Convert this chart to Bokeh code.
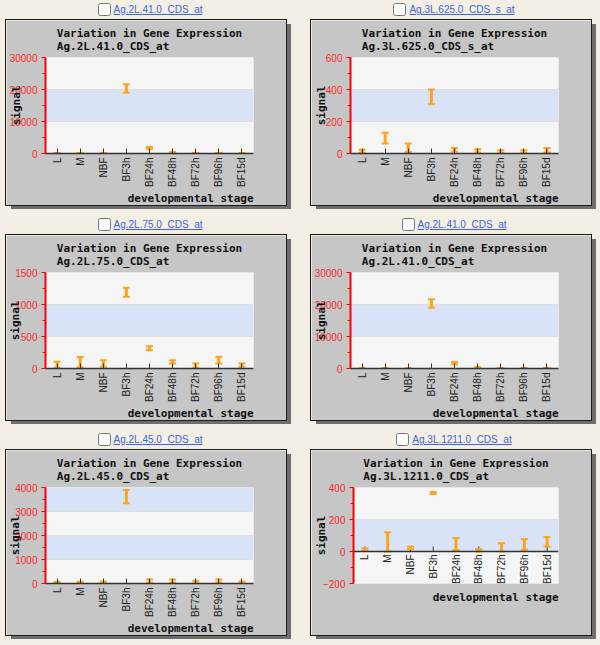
from math import pi

from bokeh.core.properties import value
from bokeh.embed import file_html
from bokeh.layouts import column, row
from bokeh.models import (ColumnDataSource, Div, Range1d, SingleIntervalTicker, Span,
                          Title)
from bokeh.plotting import figure
from bokeh.resources import INLINE

# ---------------- data ----------------
stages = ["L", "M", "NBF", "BF3h", "BF24h", "BF48h", "BF72h", "BF96h", "BF15d"]

# Ag.2L.41.0_CDS_at  (mean and half-height of the error bar)
g41_mean = [100, 100, 100, 20300, 1700, 300, 100, 100, 100]
g41_err = [60, 60, 60, 1350, 350, 200, 60, 60, 60]

# Ag.3L.625.0_CDS_s_at
g625_mean = [14, 96, 36, 354, 23, 17, 12, 12, 21]
g625_err = [10, 33, 26, 46, 12, 10, 8, 8, 14]

# Ag.2L.75.0_CDS_at
g75_mean = [57, 100, 78, 1190, 318, 104, 44, 130, 52]
g75_err = [47, 80, 52, 70, 31, 26, 34, 52, 26]

# Ag.2L.45.0_CDS_at
g45_mean = [40, 40, 50, 3620, 100, 100, 60, 100, 40]
g45_err = [30, 30, 30, 280, 70, 70, 50, 70, 40]

# Ag.3L.1211.0_CDS_at
g1211_mean = [12, 60, 23, 366, 47, 8, 26, 44, 61]
g1211_err = [8, 60, 8, 6, 37, 8, 26, 33, 29]

gene_names = ["Ag.2L.41.0_CDS_at", "Ag.3L.625.0_CDS_s_at", "Ag.2L.75.0_CDS_at",
              "Ag.2L.41.0_CDS_at", "Ag.2L.45.0_CDS_at", "Ag.3L.1211.0_CDS_at"]
gene_means = [g41_mean, g625_mean, g75_mean, g41_mean, g45_mean, g1211_mean]
gene_errs = [g41_err, g625_err, g75_err, g41_err, g45_err, g1211_err]
y_limits = [(0, 30000), (0, 600), (0, 1500), (0, 30000), (0, 4000), (-200, 400)]
y_steps = [10000, 200, 500, 10000, 1000, 200]

title_text = "Variation in Gene Expression"
x_title = "developmental stage"
y_title = "signal"

# ---------------- style ----------------
PAGE_BG = "#F3EFE5"
BOX_BG = "#C6C6C6"
FRAME_BG = "#F5F5F5"
BAND = "#D9E3F8"
ORANGE = "#FFA31A"
MONO = "DejaVu Sans Mono"
SANS = "Liberation Sans"


def tick_label_width(ylim, step):
    labels = [str(v) for v in range(ylim[0], ylim[1] + 1, step)]
    w = 0.0
    for s in labels:
        w = max(w, sum(3.33 if ch == "-" else 5.56 for ch in s))
    return w


def make_panel(gene, means, errs, ylim, step):
    p = figure(x_range=stages, y_range=Range1d(*ylim), width=280, height=185,
               output_backend="svg", toolbar_location=None,
               min_border_left=37, min_border_right=33, min_border_top=37,
               min_border_bottom=52, margin=0,
               background_fill_color=FRAME_BG, border_fill_color=BOX_BG,
               outline_line_color=None,
               styles={"outline": "1px solid #1c1c1c",
                       "box-shadow": "5px 4px 0 #6e6e6e"})

    p.title.text = title_text + "\n" + gene
    p.title.align = "center"
    p.title.vertical_align = "top"
    p.title.text_font = MONO
    p.title.text_font_style = "bold"
    p.title.text_font_size = "11px"
    p.title.text_color = "#111111"
    p.title.text_line_height = 1.05
    p.title.standoff = 4

    ticker = SingleIntervalTicker(interval=step, num_minor_ticks=2)
    p.yaxis.ticker = ticker
    p.ygrid.ticker = ticker
    p.xgrid.visible = False
    p.ygrid.grid_line_color = "#DEDEDE"
    p.ygrid.band_fill_color = BAND
    p.ygrid.band_fill_alpha = 1.0

    ya = p.yaxis[0]
    ya.axis_line_color = "#FF0000"
    ya.axis_line_width = 2
    ya.major_tick_line_color = "#FF0000"
    ya.minor_tick_line_color = "#FF0000"
    ya.major_tick_out = 4
    ya.major_tick_in = 0
    ya.minor_tick_out = 3
    ya.minor_tick_in = 0
    ya.major_label_standoff = 4
    ya.major_label_text_color = "#FF2A2A"
    ya.major_label_text_font = SANS
    ya.major_label_text_font_size = "10px"
    ya.axis_label = y_title
    ya.axis_label_text_font = MONO
    ya.axis_label_text_font_style = "bold"
    ya.axis_label_text_font_size = "11px"
    ya.axis_label_text_color = "#111111"
    ya.axis_label_standoff = int(round(12 - tick_label_width(ylim, step)))

    xa = p.xaxis[0]
    if ylim[0] >= 0:
        # ordinary category axis on the bottom edge (which is signal 0)
        xa.axis_line_color = "#333333"
        xa.axis_line_width = 1.5
        xa.major_tick_line_color = "#333333"
        xa.major_tick_in = 5
        xa.major_tick_out = 0
        xa.major_label_orientation = pi / 2
        xa.major_label_standoff = 4
        xa.major_label_text_color = "#222222"
        xa.major_label_text_font = SANS
        xa.major_label_text_font_size = "10px"
        x_title_standoff = 0
    else:
        # the category axis sits on the zero line inside the frame
        xa.visible = False
        zero = [0] * len(stages)
        zsrc = ColumnDataSource(dict(x=stages, y=zero, label=stages))
        p.add_layout(Span(location=0, dimension="width", line_color="#333333",
                          line_width=1.5))
        p.ray(x="x", y="y", length=5, length_units="screen", angle=pi / 2,
              source=zsrc, line_color="#333333", line_width=1)
        p.text(x="x", y="y", text="label", source=zsrc, angle=pi / 2, y_offset=3,
               text_align="right", text_baseline="middle", text_font=value(SANS),
               text_font_size=value("10px"), text_color="#222222")
        x_title_standoff = 11

    p.add_layout(Title(text=x_title, align="right", text_font=MONO,
                       text_font_style="bold", text_font_size="11px",
                       text_color="#111111", standoff=x_title_standoff), "below")

    low = [m - e for m, e in zip(means, errs)]
    high = [m + e for m, e in zip(means, errs)]
    src = ColumnDataSource(dict(x=stages, low=low, high=high))
    p.segment(x0="x", y0="low", x1="x", y1="high", source=src,
              line_color=ORANGE, line_width=3)
    p.scatter(x="x", y="high", source=src, marker="dash", size=7,
              line_color=ORANGE, line_width=2)
    p.scatter(x="x", y="low", source=src, marker="dash", size=7,
              line_color=ORANGE, line_width=2)
    return p


def make_link(gene, shift):
    html = (
        f'<div style="width:300px;height:20px;box-sizing:border-box;padding:3px 0 0 {shift}px;'
        'text-align:center;white-space:nowrap;'
        "font-family:'Liberation Sans',Arial,sans-serif;font-size:10px;line-height:13px;\">"
        '<input type="checkbox" style="width:13px;height:13px;margin:0 3px 0 0;'
        'padding:0;vertical-align:top;">'
        f'<a href="#" style="color:#3D63E8;text-decoration:underline;">{gene}</a></div>'
    )
    return Div(text=html, width=300, height=20, margin=0)


panels = [make_panel(g, m, e, yl, st)
          for g, m, e, yl, st in zip(gene_names, gene_means, gene_errs, y_limits, y_steps)]

children = []
for r in range(3):
    children.append(row(make_link(gene_names[2 * r], 0), make_link(gene_names[2 * r + 1], 8),
                        spacing=0, margin=0))
    bottom = 10 if r < 2 else 0
    children.append(row(panels[2 * r], panels[2 * r + 1], spacing=25,
                        margin=(0, 0, bottom, 6)))

layout = column(*children, spacing=0, margin=0)

html = file_html(layout, INLINE, title="Variation in Gene Expression")
i = html.rfind("<body")
html = html[:i] + '<body style="background-color:%s"' % PAGE_BG + html[i + 5:]
open("out.html", "w").write(html)
